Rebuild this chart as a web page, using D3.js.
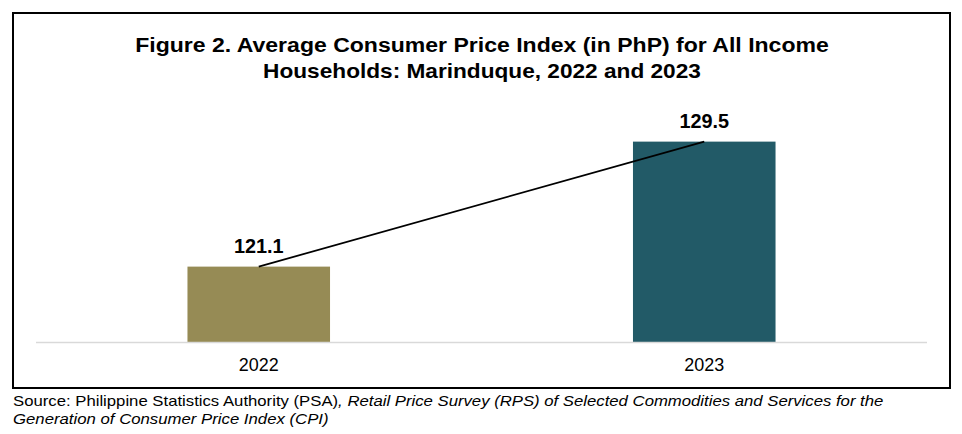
<!DOCTYPE html>
<html><head><meta charset="utf-8">
<script src="https://cdn.jsdelivr.net/npm/d3@7"></script>
<style>body{margin:0;background:#fff}svg{display:block}</style>
</head><body>
<svg id="chart" width="962" height="434"></svg>
<script>
const categories = ["2022", "2023"];
const values = [121.1, 129.5];
const barColors = ["#968B55", "#225A67"];
const titleLines = ["Figure 2. Average Consumer Price Index (in PhP) for All Income", "Households: Marinduque, 2022 and 2023"];

const svg = d3.select("#chart");
const font = "'Liberation Sans', Arial, sans-serif";

// stretch a text element horizontally to a target width around anchorX
function stretch(sel, target, anchorX) {
  const w = sel.node().getBBox().width;
  const k = target / w;
  sel.attr("transform", `translate(${anchorX},0) scale(${k},1) translate(${-anchorX},0)`);
}

svg.append("rect").attr("x", 13).attr("y", 13).attr("width", 937).attr("height", 375)
  .attr("fill", "#fff").attr("stroke", "#000").attr("stroke-width", 2);

const titleWidths = [694, 438];
svg.append("g").selectAll("text").data(titleLines).join("text")
  .attr("x", 482).attr("y", (d, i) => 52 + i * 26)
  .attr("text-anchor", "middle").attr("font-family", font).attr("font-weight", "bold")
  .attr("font-size", 21).attr("fill", "#000").text(d => d)
  .each(function(d, i) { stretch(d3.select(this), titleWidths[i], 482); });

const x = d3.scaleBand().domain(categories).range([36, 927]).paddingInner(0.68).paddingOuter(0.34);
const y = d3.scaleLinear().domain([116, 131]).range([342.5, 119.3]);

svg.append("g").selectAll("rect").data(values).join("rect")
  .attr("x", (d, i) => x(categories[i])).attr("width", x.bandwidth())
  .attr("y", d => y(d)).attr("height", d => y(116) - y(d))
  .attr("fill", (d, i) => barColors[i]);

svg.append("line").attr("x1", 36).attr("x2", 927).attr("y1", y(116)).attr("y2", y(116))
  .attr("stroke", "#d9d9d9").attr("stroke-width", 1.5);

const line = d3.line().x((d, i) => x(categories[i]) + x.bandwidth() / 2).y(d => y(d));
svg.append("path").datum(values).attr("d", line).attr("fill", "none")
  .attr("stroke", "#000").attr("stroke-width", 1.75);

svg.append("g").selectAll("text").data(values).join("text")
  .attr("x", (d, i) => x(categories[i]) + x.bandwidth() / 2).attr("y", d => y(d) - 14)
  .attr("text-anchor", "middle").attr("font-family", font).attr("font-weight", "bold")
  .attr("font-size", 21).attr("fill", "#000").text(d => d.toFixed(1))
  .each(function(d, i) { const cx = x(categories[i]) + x.bandwidth() / 2; stretch(d3.select(this), 50, cx); });

svg.append("g").selectAll("text").data(categories).join("text")
  .attr("x", d => x(d) + x.bandwidth() / 2).attr("y", 371)
  .attr("text-anchor", "middle").attr("font-family", font)
  .attr("font-size", 18).attr("fill", "#000").text(d => d)
  .each(function(d) { const cx = x(d) + x.bandwidth() / 2; stretch(d3.select(this), 40, cx); });

const src = svg.append("text").attr("x", 13).attr("y", 406).attr("font-family", font)
  .attr("font-size", 14.5).attr("fill", "#000");
src.append("tspan").text("Source: Philippine Statistics Authority (PSA)");
src.append("tspan").attr("font-style", "italic").text(", Retail Price Survey (RPS) of Selected Commodities and Services for the");
stretch(src, 871, 13);
const src2 = svg.append("text").attr("x", 13).attr("y", 424).attr("font-family", font)
  .attr("font-size", 14.5).attr("font-style", "italic").attr("fill", "#000")
  .text("Generation of Consumer Price Index (CPI)");
stretch(src2, 316, 13);
</script>
</body></html>
